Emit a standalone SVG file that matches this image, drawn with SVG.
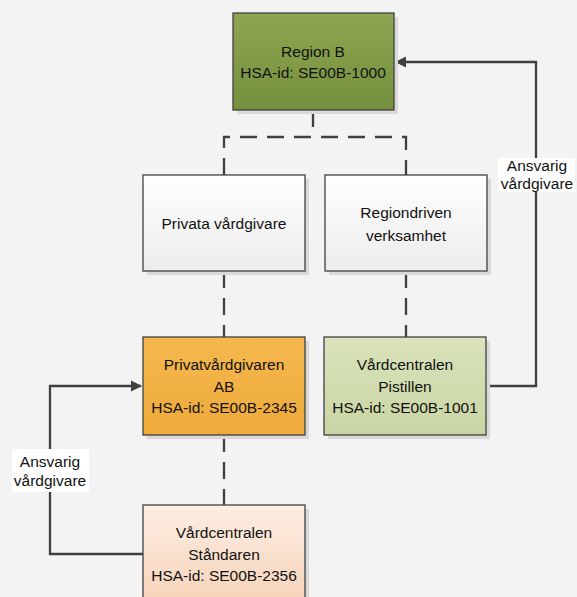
<svg xmlns="http://www.w3.org/2000/svg" width="577" height="597" viewBox="0 0 577 597">
<style>
.box{stroke:#404040;stroke-width:1.3}
.sh{fill:#d9d9d9}
.t{font-family:"Liberation Sans",Arial,sans-serif;font-size:15.5px;fill:#111111;text-anchor:middle}
.c{fill:none;stroke:#404040;stroke-width:2.3}
.d{stroke-dasharray:17,10}
.lbl{fill:#ffffff}
</style>
<defs>
<linearGradient id="gG" x1="0" y1="0" x2="0" y2="1"><stop offset="0" stop-color="#8da550"/><stop offset="1" stop-color="#77903e"/></linearGradient>
<linearGradient id="gW" x1="0" y1="0" x2="0" y2="1"><stop offset="0" stop-color="#ffffff"/><stop offset="1" stop-color="#ececec"/></linearGradient>
<linearGradient id="gO" x1="0" y1="0" x2="0" y2="1"><stop offset="0" stop-color="#f5b84f"/><stop offset="1" stop-color="#efaa3a"/></linearGradient>
<linearGradient id="gL" x1="0" y1="0" x2="0" y2="1"><stop offset="0" stop-color="#dae3bc"/><stop offset="1" stop-color="#c9d5a3"/></linearGradient>
<linearGradient id="gP" x1="0" y1="0" x2="0" y2="1"><stop offset="0" stop-color="#fdeee3"/><stop offset="1" stop-color="#f6d3b9"/></linearGradient>
<marker id="ar" viewBox="0 0 10 10" refX="9" refY="5" markerWidth="5" markerHeight="5" orient="auto" markerUnits="strokeWidth"><path d="M0,0 L10,5 L0,10 z" fill="#404040"/></marker>
</defs>
<rect width="577" height="597" fill="#f3f3f3"/>
<g id="connectors">
<path class="c d" d="M313,110 V137"/>
<path class="c d" d="M224,175 V137 H406 V175"/>
<path class="c d" d="M224,271 V337"/>
<path class="c d" d="M406,271 V337"/>
<path class="c d" d="M224,435 V505"/>
<path class="c" d="M486,386 H536 V62 H396" marker-end="url(#ar)"/>
<path class="c" d="M143,554 H50 V386 H141" marker-end="url(#ar)"/>
<rect class="lbl" x="498" y="158" width="77" height="34"/>
<text class="t" x="537" y="171">Ansvarig</text>
<text class="t" x="537" y="189">vårdgivare</text>
<rect class="lbl" x="12" y="449" width="77" height="43"/>
<text class="t" x="50" y="467">Ansvarig</text>
<text class="t" x="50" y="486">vårdgivare</text>
</g>
<g id="regionB">
<rect class="sh" x="237" y="17" width="161" height="97"/>
<rect class="box" x="233" y="13" width="161" height="97" fill="url(#gG)"/>
<text class="t" x="313" y="57">Region B</text>
<text class="t" x="313" y="78">HSA-id: SE00B-1000</text>
</g>
<g id="privata">
<rect class="sh" x="147" y="179" width="162" height="96"/>
<rect class="box" x="143" y="175" width="162" height="96" fill="url(#gW)"/>
<text class="t" x="224" y="229">Privata vårdgivare</text>
</g>
<g id="regiondriven">
<rect class="sh" x="329" y="179" width="162" height="96"/>
<rect class="box" x="325" y="175" width="162" height="96" fill="url(#gW)"/>
<text class="t" x="406" y="218">Regiondriven</text>
<text class="t" x="406" y="241">verksamhet</text>
</g>
<g id="privatvardgivaren">
<rect class="sh" x="147" y="341" width="162" height="98"/>
<rect class="box" x="143" y="337" width="162" height="98" fill="url(#gO)"/>
<text class="t" x="224" y="370">Privatvårdgivaren</text>
<text class="t" x="224" y="392">AB</text>
<text class="t" x="224" y="413">HSA-id: SE00B-2345</text>
</g>
<g id="pistillen">
<rect class="sh" x="328" y="341" width="162" height="98"/>
<rect class="box" x="324" y="337" width="162" height="98" fill="url(#gL)"/>
<text class="t" x="405" y="370">Vårdcentralen</text>
<text class="t" x="405" y="392">Pistillen</text>
<text class="t" x="405" y="413">HSA-id: SE00B-1001</text>
</g>
<g id="standaren">
<rect class="sh" x="147" y="509" width="162" height="98"/>
<rect class="box" x="143" y="505" width="162" height="98" fill="url(#gP)"/>
<text class="t" x="224" y="538">Vårdcentralen</text>
<text class="t" x="224" y="560">Ståndaren</text>
<text class="t" x="224" y="581">HSA-id: SE00B-2356</text>
</g>
</svg>
